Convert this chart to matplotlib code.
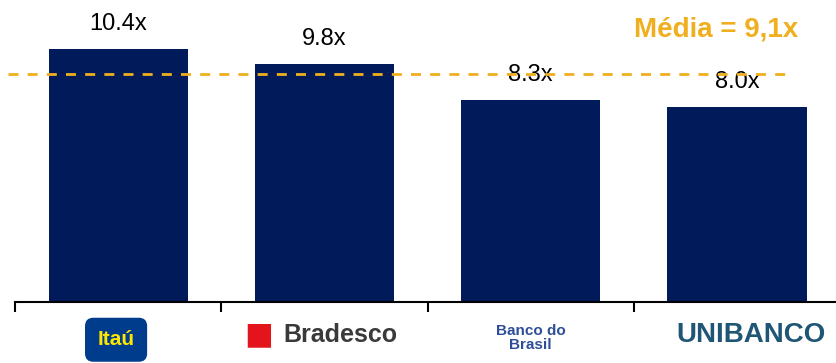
import matplotlib.pyplot as plt
import matplotlib.transforms as mtransforms

banks = ["Itaú", "Bradesco", "Banco do Brasil", "Unibanco"]
multiples = [10.4, 9.8, 8.3, 8.0]
media_label = "Média = 9,1x"
media_line = 9.35  # where the dashed line sits in the picture

plt.rcParams['font.family'] = ['Liberation Sans', 'DejaVu Sans']

fig = plt.figure(figsize=(8.36, 3.63), dpi=100)
ax = fig.add_axes([15 / 836, 61 / 363, 1 - 15 / 836, 302 / 363])

x = list(range(len(banks)))
ax.bar(x, multiples, width=0.675, color='#001A5A')

for i, v in enumerate(multiples):
    ax.annotate(f"{v:.1f}x", (i, v), xytext=(0, 18), textcoords='offset points',
                ha='center', va='center', fontsize=17, color='black')

# average line and label
ax.plot([-0.534, 3.237], [media_line, media_line], color='#F0AF1E', lw=2,
        ls=(0, (3.6, 3.3)), clip_on=False, zorder=3)
ax.text(2.9, 11.18, media_label, ha='center', va='center', fontsize=20,
        fontweight='bold', color='#F0AF1E')

ax.set_xlim(-0.5, 3.48)
ax.set_ylim(0, 12.41)
for s in ['top', 'right', 'left']:
    ax.spines[s].set_visible(False)
ax.spines['bottom'].set_linewidth(1.5)
ax.set_yticks([])
ax.set_xticks(x)
ax.set_xticklabels([])
ax.tick_params(axis='x', which='major', length=0)
ax.set_xticks([-0.5, 0.5, 1.5, 2.5], minor=True)
ax.tick_params(axis='x', which='minor', length=7, width=1.5, direction='out')

# logo-like category labels
trans = mtransforms.blended_transform_factory(ax.transData, ax.transAxes)
ax.text(-0.01, -0.125, "Itaú", transform=trans, ha='center', va='center',
        fontsize=15, fontweight='bold', color='#FFE600', clip_on=False,
        bbox=dict(boxstyle='round,pad=0.6,rounding_size=0.4', fc='#003C8C', ec='none'))
ax.text(0.68, -0.11, "■", transform=trans, ha='center', va='center',
        fontsize=22, color='#E3141C', family='DejaVu Sans', clip_on=False)
ax.text(1.08, -0.11, "Bradesco", transform=trans, ha='center', va='center',
        fontsize=18, fontweight='bold', color='#3A3A3A', clip_on=False)
ax.text(2.0, -0.12, "Banco do\nBrasil", transform=trans, ha='center', va='center',
        fontsize=11, fontweight='bold', color='#2E4E9A', linespacing=1.0, clip_on=False)
ax.text(3.07, -0.11, "UNIBANCO", transform=trans, ha='center', va='center',
        fontsize=20, fontweight='bold', color='#1F5575', clip_on=False)

fig.savefig("out.png", dpi=100)
